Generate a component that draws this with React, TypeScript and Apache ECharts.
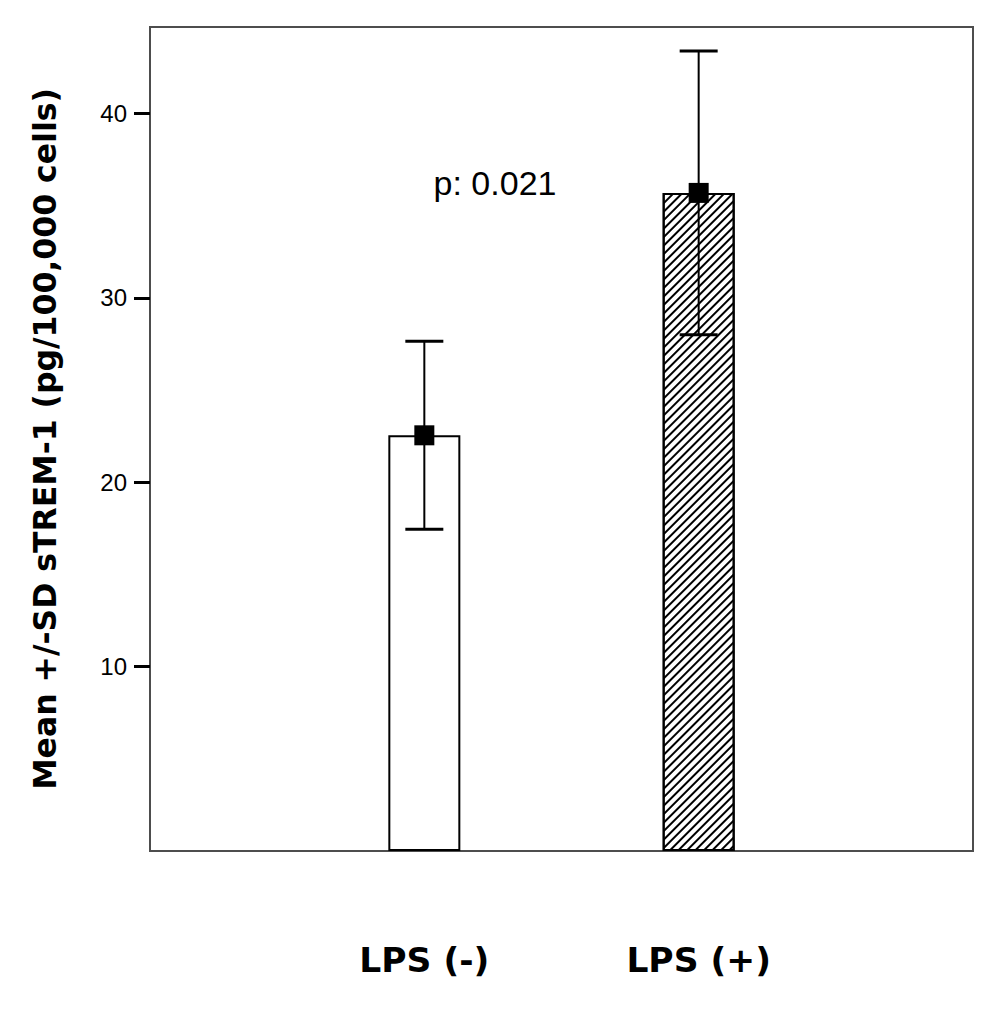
import React, { useEffect, useRef } from "react";
import * as echarts from "echarts";

const categories = ["LPS (-)", "LPS (+)"];
const means = [22.55, 35.7];
const sds = [5.1, 7.7];
const hatched = [false, true];
const yTicks = [10, 20, 30, 40];
const yMax = 44.7;
const yAxisName = "Mean +/-SD sTREM-1 (pg/100,000 cells)";
const pText = "p: 0.021";

export default function App() {
  const ref = useRef<HTMLDivElement>(null);
  useEffect(() => {
    if (!ref.current) return;
    const chart = echarts.init(ref.current, null, { renderer: "svg" });
    const axisCats = ["", ...categories, " "];
    const barData = categories.map((c, i) => ({
      value: [i + 1, means[i]],
      itemStyle: hatched[i]
        ? {
            color: "#fff",
            decal: {
              symbol: "rect",
              symbolSize: 1,
              dashArrayX: [1, 0],
              dashArrayY: [2, 4],
              rotation: -Math.PI / 4,
              color: "#000",
              backgroundColor: "#fff",
            },
          }
        : { color: "#fff" },
    }));
    const errData = categories.map((c, i) => [i + 1, means[i] - sds[i], means[i] + sds[i]]);
    const markerData = categories.map((c, i) => [i + 1, means[i]]);
    chart.setOption({
      animation: false,
      backgroundColor: "#fff",
      grid: {
        left: 150,
        right: 31,
        top: 27,
        bottom: 161,
        show: true,
        borderColor: "#4d4d4d",
        borderWidth: 2,
        backgroundColor: "transparent",
      },
      xAxis: {
        type: "category",
        data: axisCats,
        boundaryGap: false,
        axisLine: { show: false },
        axisTick: { show: false },
        splitLine: { show: false },
        axisLabel: {
          interval: 0,
          margin: 91,
          fontFamily: "DejaVu Sans",
          fontWeight: "bold",
          fontSize: 34.5,
          color: "#000",
        },
      },
      yAxis: {
        type: "value",
        min: 0,
        max: yMax,
        interval: 10,
        name: yAxisName,
        nameLocation: "middle",
        nameGap: 89,
        nameTextStyle: {
          fontFamily: "DejaVu Sans",
          fontWeight: "bold",
          fontSize: 31.5,
          color: "#000",
        },
        axisLine: { show: false },
        splitLine: { show: false },
        axisTick: {
          show: true,
          length: 16,
          customValues: yTicks,
          lineStyle: { color: "#000", width: 3 },
        },
        axisLabel: {
          customValues: yTicks,
          margin: 23,
          fontFamily: "Liberation Sans",
          fontSize: 24,
          color: "#000",
        },
      },
      graphic: [
        {
          type: "text",
          x: 495,
          y: 183,
          style: {
            text: pText,
            fontFamily: "Liberation Sans",
            fontSize: 34,
            fill: "#000",
            textAlign: "center",
            textVerticalAlign: "middle",
          },
        },
      ],
      series: [
        {
          type: "bar",
          data: barData,
          barWidth: 72,
          itemStyle: { borderColor: "#000", borderWidth: 2 },
          z: 2,
        },
        {
          type: "custom",
          data: errData,
          z: 3,
          renderItem: (params: any, api: any) => {
            const x = api.value(0);
            const lo = api.coord([x, api.value(1)]);
            const hi = api.coord([x, api.value(2)]);
            const hw = 19;
            const style = { stroke: "#000", lineWidth: 2 };
            const capStyle = { stroke: "#000", lineWidth: 3 };
            return {
              type: "group",
              children: [
                { type: "line", shape: { x1: lo[0], y1: lo[1], x2: hi[0], y2: hi[1] }, style },
                { type: "line", shape: { x1: lo[0] - hw, y1: lo[1], x2: lo[0] + hw, y2: lo[1] }, style: capStyle },
                { type: "line", shape: { x1: hi[0] - hw, y1: hi[1], x2: hi[0] + hw, y2: hi[1] }, style: capStyle },
              ],
            };
          },
        },
        {
          type: "scatter",
          data: markerData,
          symbol: "rect",
          symbolSize: 20,
          itemStyle: { color: "#000", opacity: 1 },
          z: 4,
        },
      ],
    });
    return () => chart.dispose();
  }, []);
  return <div ref={ref} style={{ width: 1004, height: 1012, position: "absolute", left: 0, top: 0 }} />;
}
